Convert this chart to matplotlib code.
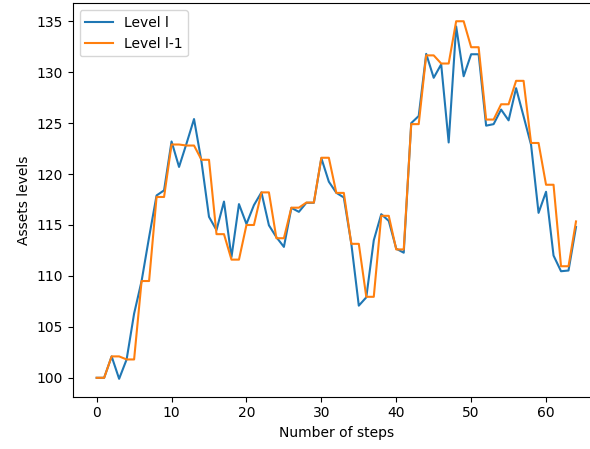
import matplotlib
matplotlib.use("Agg")
import matplotlib.pyplot as plt

# fine level path (one value per step)
level_fine = [100.0, 100.0, 102.1, 99.9, 101.8, 106.3, 109.5, 113.8, 117.9, 118.4,
              123.2, 120.7, 123.0, 125.4, 121.2, 115.8, 114.5, 117.3, 111.85, 117.05,
              115.1, 116.95, 118.2, 114.97, 113.8, 112.85, 116.68, 116.29, 117.18, 117.18,
              121.56, 119.25, 118.16, 117.7, 113.17, 107.08, 107.9, 113.5, 116.06, 115.4,
              112.67, 112.28, 125.0, 125.7, 131.8, 129.45, 130.77, 123.1, 134.49, 129.6,
              131.76, 131.76, 124.75, 124.9, 126.33, 125.27, 128.43, 125.67, 122.87, 116.19,
              118.26, 112.0, 110.46, 110.53, 114.8]

# coarse level path (held over pairs of steps)
level_coarse = [100.0, 100.0, 102.1, 102.1, 101.8, 101.8, 109.5, 109.5, 117.75, 117.75,
                122.9, 122.9, 122.8, 122.8, 121.4, 121.4, 114.1, 114.1, 111.6, 111.6,
                115.0, 115.0, 118.2, 118.2, 113.7, 113.7, 116.7, 116.7, 117.2, 117.2,
                121.6, 121.6, 118.15, 118.15, 113.15, 113.15, 107.95, 107.95, 115.9, 115.9,
                112.6, 112.6, 124.9, 124.9, 131.65, 131.65, 130.85, 130.85, 135.0, 135.0,
                132.45, 132.45, 125.35, 125.35, 126.85, 126.85, 129.15, 129.15, 123.05, 123.05,
                118.95, 118.95, 110.95, 110.95, 115.35]

steps = list(range(len(level_fine)))

fig = plt.figure(figsize=(5.9, 4.49), dpi=100)
# axes run slightly past the right edge of the figure
ax = fig.add_axes([0.1232, 0.1165, 0.8937, 0.876])

ax.plot(steps, level_fine, label="Level l")
ax.plot(steps, level_coarse, label="Level l-1")

ax.set_xlabel("Number of steps")
ax.set_ylabel("Assets levels")
ax.legend(loc="upper left")
ax.spines["right"].set_visible(False)

fig.savefig("out.png", dpi=100)
